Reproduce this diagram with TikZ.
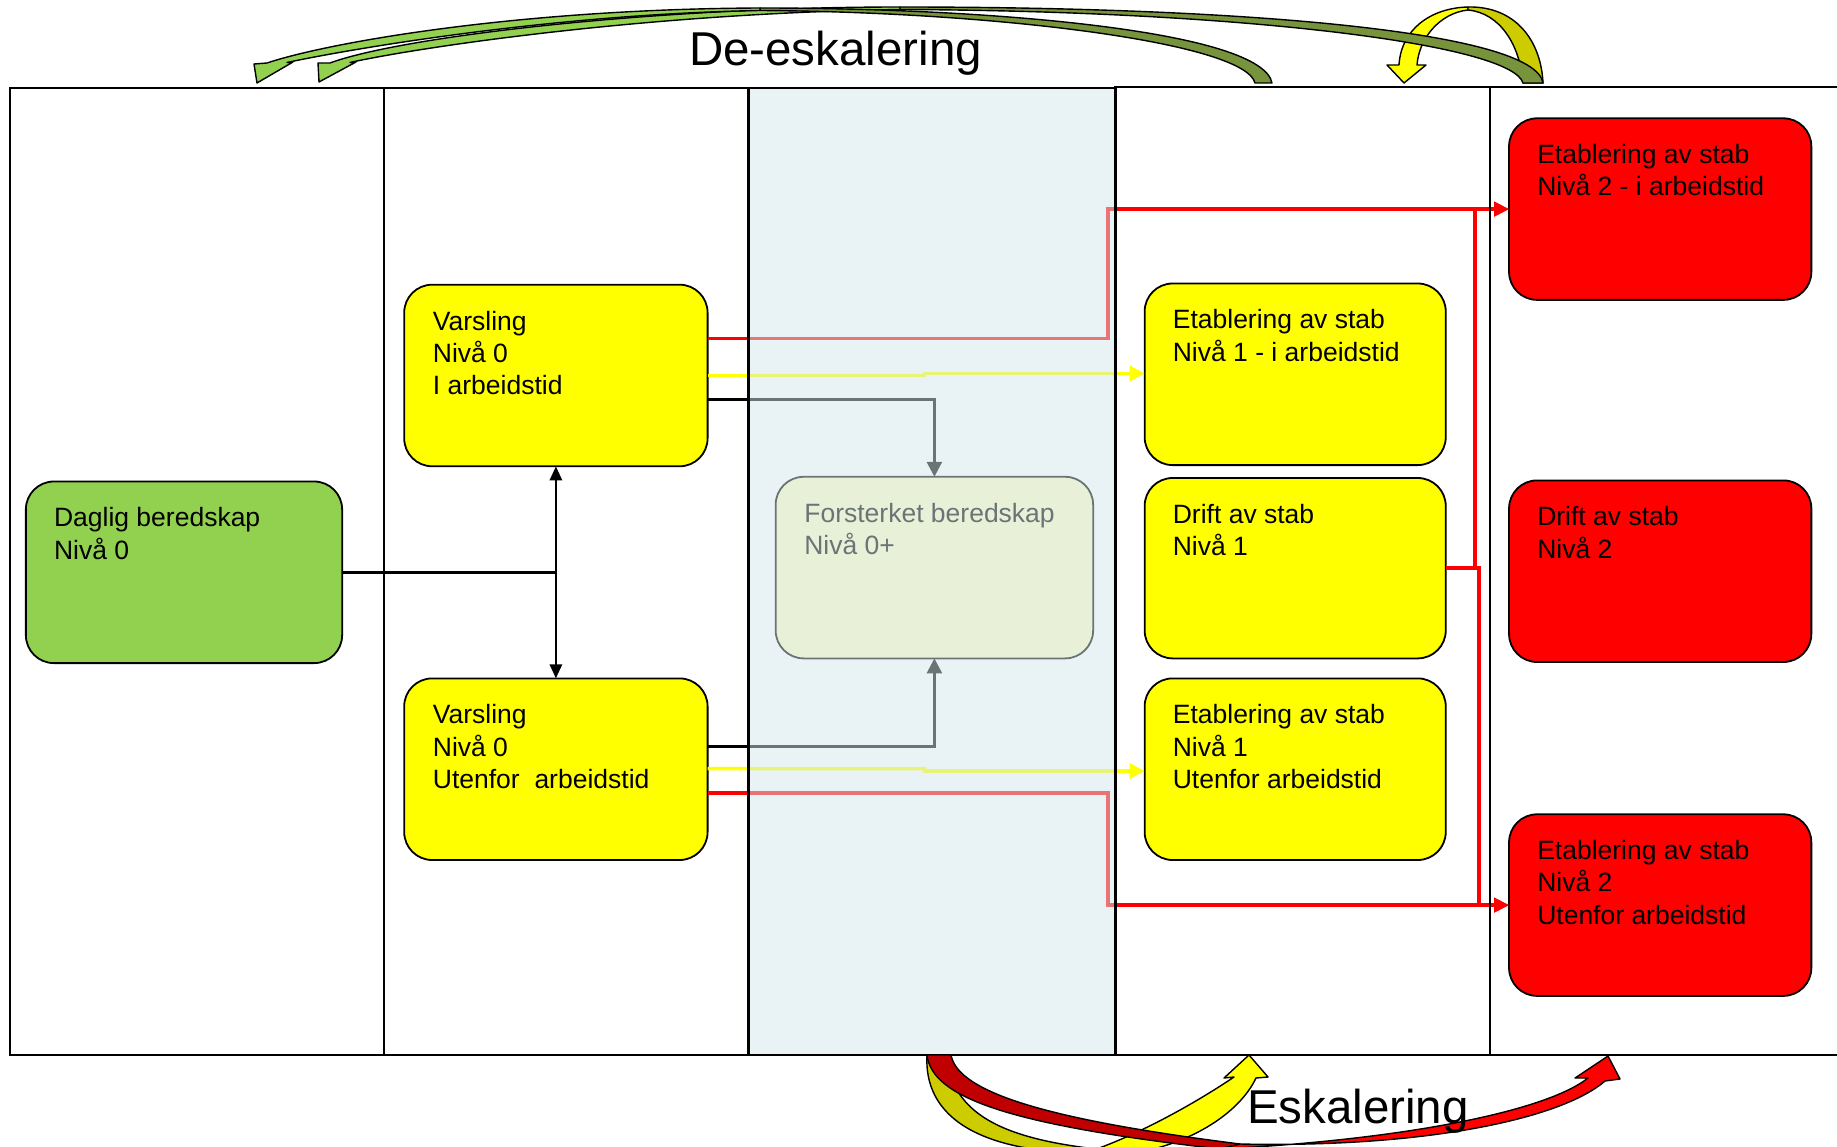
\documentclass[tikz,border=0pt]{standalone}
\usepackage{fontspec}
\setmainfont{Liberation Sans}
\usetikzlibrary{arrows.meta,calc}
\definecolor{cgreen}{HTML}{92D050}
\definecolor{cdkgreen}{HTML}{77933C}
\definecolor{cyellow}{HTML}{FFFF00}
\definecolor{cdkyellow}{HTML}{CCCC00}
\definecolor{cred}{HTML}{FF0000}
\definecolor{cdkred}{HTML}{C00000}
\definecolor{cpale}{HTML}{FFF9C4}
\definecolor{ccover}{HTML}{D5E8EC}
\begin{document}
\begin{tikzpicture}[x=1pt,y=-1pt,
  box/.style={draw=black,line width=1.8pt,rounded corners=28pt,minimum width=303.4pt,minimum height=181.6pt,inner sep=0pt,outer sep=0pt},
  gbox/.style={box,fill=cgreen},
  ybox/.style={box,fill=cyellow},
  rbox/.style={box,fill=cred,minimum width=302.3pt},
  fbox/.style={box,fill=cpale},
  txt/.style={anchor=north west,inner sep=0pt,outer sep=0pt,align=left,font=\fontsize{26.5}{32.2}\selectfont},
  title/.style={anchor=base west,inner sep=0pt,outer sep=0pt,font=\fontsize{47.5}{50}\selectfont},
  rline/.style={draw=cred,line width=3.7pt,-{Triangle[length=15pt,width=14pt]}},
  yline/.style={draw=cyellow,line width=3.7pt,-{Triangle[length=15pt,width=15pt]}},
  kline/.style={draw=black,line width=2.8pt},
  karrow/.style={kline,-{Triangle[length=15pt,width=15pt]}},
  frame/.style={draw=black,line width=2.4pt},
  carrow/.style={draw=black,line width=1.4pt,line join=round}]
\useasboundingbox (0,0) rectangle (1837,1147);
\clip (0,0) rectangle (1837,1147);
\fill[white] (0,0) rectangle (1837,1147);

% boxes
\node[gbox,minimum width=316.3pt] (d0) at (184,572.3) {};
\node[ybox] (v1) at (555.9,375.5) {};
\node[ybox] (v2) at (555.9,769.2) {};
\node[fbox,minimum width=317.5pt] (f0) at (934.4,567.6) {};
\node[ybox,minimum width=301.1pt] (e1) at (1295.2,374.3) {};
\node[ybox,minimum width=301.1pt,minimum height=180.4pt] (dr1) at (1295.2,568.2) {};
\node[ybox,minimum width=301.1pt] (e1u) at (1295.2,769.2) {};
\node[rbox] (r1) at (1660.2,209.1) {};
\node[rbox] (dr2) at (1660.2,571.2) {};
\node[rbox] (r3) at (1660.2,905.1) {};

% texts
\node[txt] (d0t) at ($(d0.north west)+(28.2,26.2)$) {Daglig beredskap\\Nivå 0};
\node[txt] (v1t) at ($(v1.north west)+(28.7,26.2)$) {Varsling\\Nivå 0\\I arbeidstid};
\node[txt] (v2t) at ($(v2.north west)+(28.7,26.2)$) {Varsling\\Nivå 0\\Utenfor\ \ arbeidstid};
\node[txt] (f0t) at ($(f0.north west)+(28.7,26.2)$) {Forsterket beredskap\\Nivå 0+};
\node[txt] (e1t) at ($(e1.north west)+(28.2,26.2)$) {Etablering av stab\\Nivå 1 - i arbeidstid};
\node[txt] (dr1t) at ($(dr1.north west)+(28.2,26.2)$) {Drift av stab\\Nivå 1};
\node[txt] (e1ut) at ($(e1u.north west)+(28.2,26.2)$) {Etablering av stab\\Nivå 1\\Utenfor arbeidstid};
\node[txt] (r1t) at ($(r1.north west)+(28.2,26.2)$) {Etablering av stab\\Nivå 2 - i arbeidstid};
\node[txt] (dr2t) at ($(dr2.north west)+(28.2,26.2)$) {Drift av stab\\Nivå 2};
\node[txt] (r3t) at ($(r3.north west)+(28.2,26.2)$) {Etablering av stab\\Nivå 2\\Utenfor arbeidstid};

% connectors
\draw[kline] (d0.east) -- (d0.east -| v1.south);
\draw[kline,{Triangle[length=14pt,width=12pt]}-{Triangle[length=14pt,width=12pt]}] (v1.south) -- (v2.north);
\draw[rline] ($(v1.east)+(0,-36.9)$) -- ++(400.7,0) |- (r1.west);
\draw[yline] (v1.east) -- ++(217,0) -- ++(0,-2) -- ($(e1.west)+(0,-0.8)$);
\draw[karrow] ($(v1.east)+(0,24)$) -| (f0.north);
\draw[karrow] ($(v2.east)+(0,-22.9)$) -| (f0.south);
\draw[yline] ($(v2.east)+(0,-0.6)$) -- ++(217,0) -- ++(0,2.4) -- ($(e1u.west)+(0,1.8)$);
\draw[rline] ($(v2.east)+(0,24)$) -- ++(400.7,0) |- (r3.west);
\draw[rline] (dr1.east) -- ++(29.5,0) |- (r1.west);
\draw[rline] (dr1.east) -- ++(33.5,0) |- (r3.west);

% middle lane tint
\fill[ccover,fill opacity=0.5] (748.6,88) rectangle (1115.3,1055);

% lanes
\draw[frame] (10,88) rectangle (384,1055);
\draw[frame] (384,88) rectangle (748.6,1055);
\draw[frame] (748.6,88) rectangle (1115.3,1055);
\draw[frame] (1115.3,87) rectangle (1490.2,1055);
\draw[frame] (1490.2,87) -- (1840,87);
\draw[frame] (1490.2,1055) -- (1840,1055);

% top curved arrows (De-eskalering)
\filldraw[carrow,fill=cyellow] (1468,7) .. controls (1430,8) and (1401,30) .. (1399,65) -- (1387,65) -- (1404,83) -- (1426,65) -- (1417,65) .. controls (1419,38) and (1440,13) .. (1468,10) -- cycle;
\filldraw[carrow,fill=cdkyellow] (1468,7) .. controls (1515,6) and (1541,40) .. (1543,83) -- (1523,83) .. controls (1520,45) and (1500,13) .. (1468,10) -- cycle;
\filldraw[carrow,fill=cdkgreen] (900,7) .. controls (1250,7) and (1535,32) .. (1543,83) -- (1523,83) .. controls (1512,45) and (1250,11) .. (900,9.5) -- cycle;
\filldraw[carrow,fill=cgreen] (900,7) .. controls (650,7) and (400,37) .. (330,63) -- (318,63) -- (319,82) -- (356,62) -- (350,62.5) .. controls (420,47) and (650,13) .. (900,9.5) -- cycle;
\filldraw[carrow,fill=cdkgreen] (760,8) .. controls (1000,8) and (1262,32) .. (1272,83) -- (1255,83) .. controls (1245,43) and (1000,12) .. (760,10.5) -- cycle;
\filldraw[carrow,fill=cgreen] (760,8) .. controls (520,9) and (330,42) .. (267,63) -- (254,64) -- (257,83) -- (293,62) -- (287,62.5) .. controls (360,47) and (560,14) .. (760,10.5) -- cycle;

% bottom curved arrows (Eskalering)
\filldraw[carrow,fill=cdkyellow] (927,1055) .. controls (923,1128) and (1000,1152) .. (1085,1153) -- (1105,1150) .. controls (1010,1140) and (955,1118) .. (947,1060) -- cycle;
\filldraw[carrow,fill=cyellow] (1085,1153) .. controls (1140,1135) and (1200,1100) .. (1234,1077) -- (1224,1078) -- (1249,1055) -- (1268,1077) -- (1256,1078) .. controls (1240,1112) and (1190,1148) .. (1115,1156) -- cycle;
\filldraw[carrow,fill=cdkred] (927,1055) .. controls (932,1098) and (1010,1125) .. (1220,1149) -- (1240,1144) .. controls (1050,1120) and (958,1093) .. (951,1055) -- cycle;
\filldraw[carrow,fill=cred] (1220,1149) .. controls (1400,1140) and (1545,1112) .. (1588,1078) -- (1575,1078) -- (1608,1056) -- (1620,1079) -- (1605,1081) .. controls (1560,1120) and (1420,1148) .. (1240,1144) -- cycle;

% titles
\node[title] (deesk) at (689,66) {De-eskalering};
\node[title] (esk) at (1247,1123) {Eskalering};
\end{tikzpicture}
\end{document}
